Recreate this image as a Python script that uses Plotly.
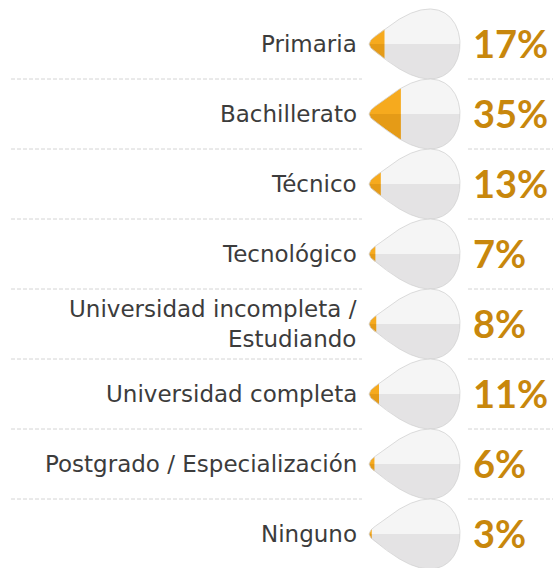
import numpy as np
import plotly.graph_objects as go

# Survey results: highest education level reached
categories = [
    "Primaria",
    "Bachillerato",
    "Técnico",
    "Tecnológico",
    "Universidad incompleta /<br>Estudiando",
    "Universidad completa",
    "Postgrado / Especialización",
    "Ninguno",
]
percentages = [17, 35, 13, 7, 8, 11, 6, 3]

# Layout constants (axis units equal screen pixels)
W_PX, H_PX = 554, 568
ROW0, ROW_STEP = 44, 70
DROP_X0, DROP_W, DROP_H = 369, 91, 35
LABEL_X, PCT_X = 359, 471

TOP_GRAY, BOT_GRAY, OUTLINE = "#f5f5f5", "#e4e3e4", "#d2d2d2"
TOP_ORANGE, BOT_ORANGE = "#f6aa1e", "#e59b17"
PCT_COLOR = "#c8870c"
LABEL_FONT = "DejaVu Sans"


def drop_profile(u):
    """Half-height of the teardrop (tip at u=0, round end at u=1)."""
    t = np.arccos(np.clip(1 - 2 * u, -1, 1))
    base = np.sin(t) * np.sin(t / 2) / 0.7698
    blunt = 0.1 * (1 - np.exp(-u / 0.015)) * np.exp(-u / 0.1)
    return DROP_H * (base + blunt)


fig = go.Figure()

for i, (cat, pct) in enumerate(zip(categories, percentages)):
    cy = ROW0 + ROW_STEP * i

    # grey teardrop, two halves
    t = np.linspace(0, np.pi, 160)
    u = (1 - np.cos(t)) / 2
    h = drop_profile(u)
    xs = DROP_X0 + DROP_W * u
    for sign, col in ((-1, TOP_GRAY), (1, BOT_GRAY)):
        fig.add_trace(go.Scatter(
            x=np.concatenate([xs, [DROP_X0]]),
            y=np.concatenate([cy + sign * h, [cy]]),
            mode="lines", fill="toself", fillcolor=col,
            line=dict(width=0), hoverinfo="skip", showlegend=False))

    # orange share, filled from the tip
    p = pct / 100
    uu = np.linspace(0, p, 80)
    hh = drop_profile(uu)
    xx = DROP_X0 + DROP_W * uu
    for sign, col in ((-1, TOP_ORANGE), (1, BOT_ORANGE)):
        fig.add_trace(go.Scatter(
            x=np.concatenate([xx, [xx[-1], DROP_X0]]),
            y=np.concatenate([cy + sign * hh, [cy, cy]]),
            mode="lines", fill="toself", fillcolor=col,
            line=dict(width=0), hoverinfo="skip", showlegend=False))

    # outline of the drop
    fig.add_trace(go.Scatter(
        x=np.concatenate([xs, xs[::-1]]),
        y=np.concatenate([cy - h, (cy + h)[::-1]]),
        mode="lines", line=dict(color=OUTLINE, width=0.8),
        hoverinfo="skip", showlegend=False))

    fig.add_annotation(
        x=LABEL_X, y=cy, text=cat, showarrow=False,
        xanchor="right", yanchor="middle", align="right",
        font=dict(family=LABEL_FONT, size=23, color="#3c3c3c"))
    fig.add_annotation(
        x=PCT_X, y=cy - 1, text=f"<b>{pct}%</b>", showarrow=False,
        xanchor="left", yanchor="middle",
        font=dict(family="Lato", size=38, color=PCT_COLOR))

# dashed separators between rows, interrupted by the drops
for i in range(len(categories) - 1):
    yy = ROW0 + ROW_STEP * i + ROW_STEP / 2
    for xa, xb in ((11, 362), (468, 553)):
        fig.add_shape(type="line", x0=xa, x1=xb, y0=yy, y1=yy,
                      line=dict(color="#d4d4d4", width=1, dash="4px,2px"),
                      layer="below")

fig.update_layout(
    width=W_PX, height=H_PX,
    margin=dict(l=0, r=0, t=0, b=0),
    paper_bgcolor="white", plot_bgcolor="white",
    xaxis=dict(range=[0, W_PX], visible=False, fixedrange=True),
    yaxis=dict(range=[H_PX, 0], visible=False, fixedrange=True),
)

fig.write_html("out.html")
